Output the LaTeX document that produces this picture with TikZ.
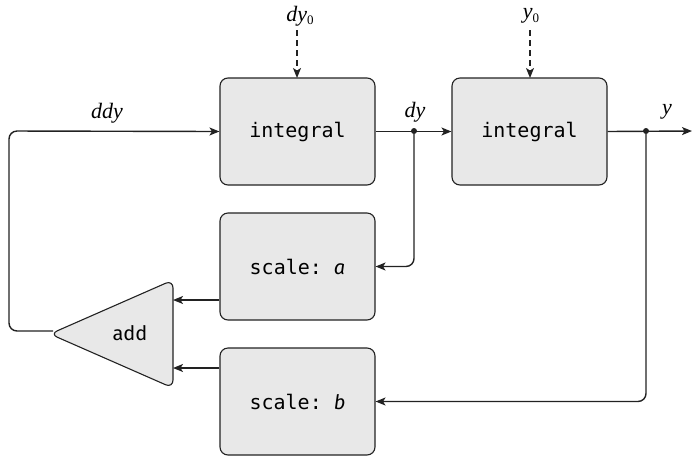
\documentclass[tikz,border=0pt]{standalone}
\usepackage{fontspec}
\setmainfont{Liberation Serif}
\setmonofont{DejaVu Sans Mono}
\setsansfont{Fira Sans}
\usetikzlibrary{arrows.meta}
\definecolor{boxfill}{HTML}{E8E8E8}
\definecolor{lin}{HTML}{222222}
\newcommand{\subz}{\raisebox{-3.5pt}{\fontsize{13}{14}\selectfont\upshape 0}}
\tikzset{
  blk/.style={draw=lin, fill=boxfill, line width=1.1pt, rounded corners=8pt, minimum width=155pt, minimum height=107pt, inner sep=0pt, font=\fontsize{20}{24}\selectfont\ttfamily},
  wire/.style={draw=lin, line width=1.4pt, -{Stealth[length=10pt,width=8pt,inset=2.5pt]}, rounded corners=8pt},
  dashwire/.style={draw=lin, line width=1.4pt, dash pattern=on 6pt off 4pt, -{Stealth[length=10pt,width=8pt,inset=2.5pt]}},
  lbl/.style={font=\fontsize{22}{24}\selectfont\itshape},
  dotnode/.style={circle, fill=lin, inner sep=0pt, minimum size=6pt}
}
\begin{document}
\begin{tikzpicture}[x=1pt,y=-1pt]
\useasboundingbox (0,0) rectangle (693,456);
\node[blk] (int1) at (297.5,131.5) {integral};
\node[blk] (int2) at (529.5,131.5) {integral};
\node[blk] (sa) at (297.5,266.5) {scale: {\sffamily\itshape a}};
\node[blk] (sb) at (297.5,401.5) {scale: {\sffamily\itshape b}};
\path[draw=lin, fill=boxfill, line width=1.1pt, rounded corners=8pt] (173,280) -- (173,388) -- (50,334) -- cycle;
\node[font=\fontsize{20}{24}\selectfont\sffamily] (add) at (130,333) {add};
\coordinate (addout) at (53,331);
\coordinate (ain1) at (173,300);
\coordinate (ain2) at (173,368);
\node[lbl] (dy0) at (300,16) {dy\subz};
\node[lbl] (y0) at (531,16) {y\subz};
\node[dotnode] (d1) at (414,131) {};
\node[dotnode] (d2) at (646,131) {};
\coordinate (yout) at (692,131);
\node[lbl] at (415,112) {dy};
\node[lbl] at (667,112) {y};
\node[lbl] at (107,113) {ddy};
\draw[dashwire] (297,30) -- (297,78) coordinate (t1);
\draw[dashwire] (530,30) -- (530,78) coordinate (t2);
\draw[wire] (int1.east) -- (int2.west);
\draw[wire] (int2.east) -- (yout);
\draw[wire] (d1) |- (sa.east);
\draw[wire] (d2) |- (sb.east);
\draw[wire] (sa.west |- ain1) -- (ain1);
\draw[wire] (sb.west |- ain2) -- (ain2);
\draw[wire] (addout) -- (9,331) -- (9,131) -- (int1.west);
\end{tikzpicture}
\end{document}
